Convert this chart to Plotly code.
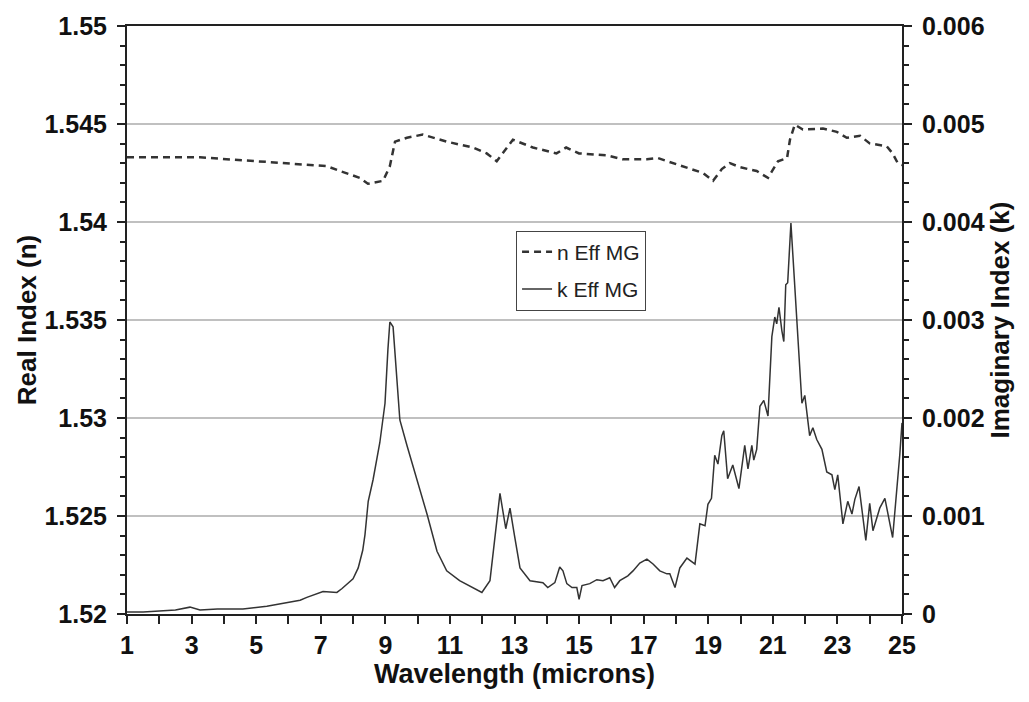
import plotly.graph_objects as go

# Real index (n) — dashed curve, left axis
n_wavelength = [1.0, 3.26, 5.02, 6.77, 7.19, 7.6, 8.21, 8.46, 8.93, 9.14, 9.3, 9.67, 10.16,
                10.9, 11.71, 12.14, 12.45, 12.95, 13.57, 14.3, 14.6, 15.0, 15.86, 16.35,
                17.1, 17.44, 17.9, 18.43, 18.84, 19.15, 19.42, 19.67, 19.98, 20.5, 20.85,
                21.16, 21.44, 21.53, 21.68, 21.93, 22.55, 22.98, 23.29, 23.7, 24.0, 24.53,
                24.71, 24.87, 25.0]
n_eff_mg = [1.5433, 1.5433, 1.5431, 1.5429, 1.54285, 1.5426, 1.54225, 1.54195, 1.5421,
            1.54285, 1.5441, 1.5443, 1.54446, 1.5441, 1.5438, 1.5435, 1.5431, 1.5442,
            1.5438, 1.5435, 1.5438, 1.5435, 1.5434, 1.5432, 1.5432, 1.54326, 1.5430,
            1.5427, 1.5425, 1.5421, 1.5427, 1.5430, 1.5428, 1.5426, 1.54225, 1.5431,
            1.54326, 1.5442, 1.54497, 1.54472, 1.54477, 1.5446, 1.5443, 1.5444, 1.54401,
            1.54386, 1.5435, 1.5430, 1.5429]

# Imaginary index (k) — solid curve, right axis
k_wavelength = [1.0, 1.5, 2.0, 2.5, 2.95, 3.26, 3.8, 4.59, 5.33, 5.95, 6.36, 6.57, 7.07, 7.5,
                7.66, 8.0, 8.16, 8.3, 8.37, 8.47, 8.62, 8.83, 8.99, 9.08, 9.14, 9.24, 9.35,
                9.45, 9.67, 9.98, 10.29, 10.6, 10.9, 11.3, 11.7, 11.99, 12.24, 12.4, 12.55,
                12.73, 12.86, 13.0, 13.17, 13.48, 13.88, 14.03, 14.25, 14.4, 14.5, 14.62,
                14.78, 14.93, 15.0, 15.09, 15.33, 15.55, 15.74, 15.95, 16.1, 16.26, 16.51,
                16.67, 16.88, 17.1, 17.29, 17.5, 17.72, 17.81, 17.97, 18.12, 18.34, 18.59,
                18.74, 18.9, 18.99, 19.1, 19.2, 19.3, 19.42, 19.48, 19.6, 19.76, 19.95,
                20.13, 20.23, 20.35, 20.41, 20.5, 20.6, 20.72, 20.85, 20.97, 21.06, 21.12,
                21.19, 21.28, 21.34, 21.4, 21.46, 21.56, 21.74, 21.9, 21.99, 22.14, 22.24,
                22.36, 22.52, 22.67, 22.83, 22.92, 23.01, 23.17, 23.32, 23.45, 23.54, 23.67,
                23.88, 24.0, 24.1, 24.31, 24.47, 24.62, 24.71, 24.93, 25.0]
k_eff_mg = [0.00002, 0.00002, 0.00003, 0.00004, 0.00007, 0.00004, 0.00005, 0.00005, 0.00008,
            0.00012, 0.00014, 0.00017, 0.00023, 0.00022, 0.00026, 0.00036, 0.00047, 0.00065,
            0.00081, 0.00115, 0.00137, 0.00175, 0.00215, 0.0027, 0.00298, 0.00293, 0.0024,
            0.00198, 0.00172, 0.00138, 0.00102, 0.00064, 0.00044, 0.00034, 0.00027, 0.00022,
            0.00034, 0.0008, 0.00123, 0.00087, 0.00108, 0.0008, 0.00047, 0.00034, 0.00032,
            0.00027, 0.00032, 0.00048, 0.00044, 0.00031, 0.00027, 0.00027, 0.00015, 0.00029,
            0.00031, 0.00035, 0.00034, 0.00037, 0.00027, 0.00034, 0.00039, 0.00044, 0.00052,
            0.00056, 0.00051, 0.00044, 0.00041, 0.00041, 0.00027, 0.00047, 0.00057, 0.00051,
            0.00092, 0.0009, 0.00112, 0.00118, 0.00162, 0.00153, 0.00182, 0.00187, 0.00138,
            0.00152, 0.00128, 0.00172, 0.00148, 0.00172, 0.00157, 0.00168, 0.00212, 0.00218,
            0.00202, 0.00283, 0.00303, 0.00296, 0.00313, 0.00289, 0.00278, 0.00336, 0.00338,
            0.00399, 0.00306, 0.00215, 0.00223, 0.00182, 0.0019, 0.00178, 0.00168, 0.00145,
            0.00142, 0.00127, 0.00142, 0.00092, 0.00115, 0.00102, 0.00117, 0.0013, 0.00075,
            0.00113, 0.00085, 0.00108, 0.00118, 0.00095, 0.00078, 0.00162, 0.00195]

x_ticks = [1, 3, 5, 7, 9, 11, 13, 15, 17, 19, 21, 23, 25]
n_ticks = [1.52, 1.525, 1.53, 1.535, 1.54, 1.545, 1.55]
n_tick_text = ["1.52", "1.525", "1.53", "1.535", "1.54", "1.545", "1.55"]
k_ticks = [0, 0.001, 0.002, 0.003, 0.004, 0.005, 0.006]
k_tick_text = ["0", "0.001", "0.002", "0.003", "0.004", "0.005", "0.006"]

FONT = "Liberation Sans, Arial, sans-serif"
AX = "#222222"

fig = go.Figure()
fig.add_trace(go.Scatter(x=n_wavelength, y=n_eff_mg, mode="lines", name="n Eff MG",
                         legendgroup="n",
                         line=dict(color="#333333", width=2.5, dash="7px,5px")))
fig.add_trace(go.Scatter(x=k_wavelength, y=k_eff_mg, mode="lines", name="k Eff MG",
                         legendgroup="k", yaxis="y2",
                         line=dict(color="#333333", width=1.5)))

tickfont = dict(family=FONT, size=25, color="#111111", weight="bold")
titlefont = dict(family=FONT, size=26, color="#111111", weight="bold")

fig.update_layout(
    width=1029, height=702,
    margin=dict(l=127, r=127, t=18, b=88),
    paper_bgcolor="white", plot_bgcolor="white",
    showlegend=True,
    legend=dict(x=0.502, y=0.652, xanchor="left", yanchor="top",
                bordercolor="#444444", borderwidth=1, bgcolor="white",
                font=dict(family=FONT, size=21, color="#222222"),
                tracegroupgap=7, traceorder="grouped"),
    xaxis=dict(range=[1, 25], tickmode="array", tickvals=x_ticks,
               ticks="outside", ticklen=8, tickwidth=2, tickcolor=AX,
               showline=True, linewidth=2, linecolor=AX, mirror=True,
               showgrid=False, zeroline=False, tickfont=tickfont,
               minor=dict(tickmode="linear", tick0=1, dtick=1, ticks="outside",
                          ticklen=8, tickwidth=2, tickcolor=AX, showgrid=False),
               title=dict(text="Wavelength (microns)", font=dict(titlefont, size=27),
                          standoff=0)),
    yaxis=dict(range=[1.52, 1.55], tickmode="array", tickvals=n_ticks, ticktext=n_tick_text,
               ticks="outside", ticklen=8, tickwidth=2, tickcolor=AX,
               showline=True, linewidth=2, linecolor=AX, ticklabelstandoff=5,
               showgrid=True, gridcolor="#c0c0c0", gridwidth=2, zeroline=False,
               tickfont=tickfont,
               minor=dict(tickmode="linear", tick0=1.52, dtick=0.001, ticks="outside",
                          ticklen=5, tickwidth=2, tickcolor=AX, showgrid=False),
               title=dict(text="Real Index (n)", font=titlefont, standoff=0)),
    yaxis2=dict(range=[0, 0.006], overlaying="y", side="right",
                tickmode="array", tickvals=k_ticks, ticktext=k_tick_text,
                ticks="outside", ticklen=8, tickwidth=2, tickcolor=AX, ticklabelstandoff=5,
                showline=True, linewidth=2, linecolor=AX,
                showgrid=False, zeroline=False, tickfont=tickfont,
                minor=dict(tickmode="linear", tick0=0, dtick=0.0002, ticks="outside",
                           ticklen=5, tickwidth=2, tickcolor=AX, showgrid=False),
                title=dict(text="Imaginary Index (k)", font=titlefont, standoff=6)),
)

fig.write_html("out.html")
